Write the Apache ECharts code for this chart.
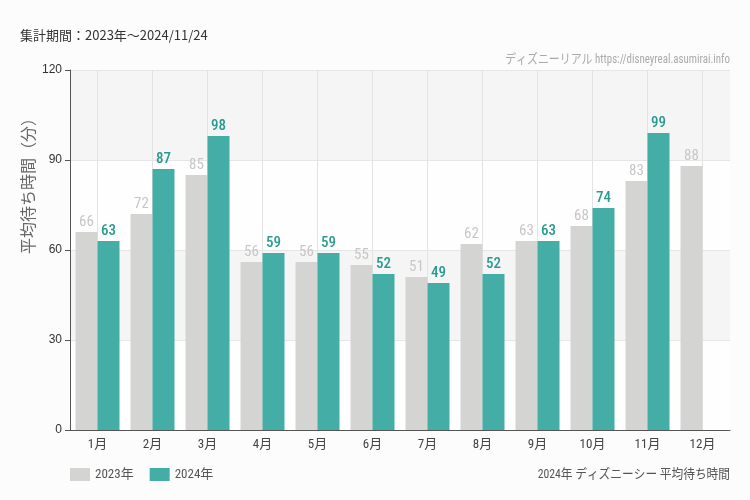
<!DOCTYPE html>
<html><head><meta charset="utf-8">
<script src="https://cdn.jsdelivr.net/npm/echarts@6/dist/echarts.min.js"></script>
<style>html,body{margin:0;padding:0;background:#fbfcfb}#c{width:750px;height:500px}</style>
</head><body><div id="c"></div>
<script>
const categories = ['1月','2月','3月','4月','5月','6月','7月','8月','9月','10月','11月','12月'];
const values2023 = [66,72,85,56,56,55,51,62,63,68,83,88];
const values2024 = [63,87,98,59,59,52,49,52,63,74,99,null];
const yTicks = [0,30,60,90,120];
const seriesNames = ['2023年','2024年'];

const narrow = '"Liberation Sans Narrow","Roboto Condensed","Noto Sans CJK JP",sans-serif';
const cjk = '"Noto Sans CJK JP",sans-serif';
const chart = echarts.init(document.getElementById('c'));
chart.setOption({
  backgroundColor:'#fbfcfb',
  animation:false,
  title:[
    {text:'集計期間：2023年～2024/11/24',left:20,top:29,padding:0,textStyle:{fontSize:13,fontWeight:'normal',color:'#333',fontFamily:cjk}}
  ],
  graphic:[
    {type:'text',x:730,y:60,scaleX:0.84,style:{text:'ディズニーリアル https://disneyreal.asumirai.info',align:'right',verticalAlign:'middle',font:'13px '+narrow,fill:'#aaa'}},
    {type:'text',x:730,y:475,scaleX:0.9,style:{text:'2024年 ディズニーシー 平均待ち時間',align:'right',verticalAlign:'middle',font:'13px '+narrow,fill:'#555'}},
    {type:'text',x:28,y:182,rotation:Math.PI/2,style:{text:'平均待ち時間（分）',align:'center',verticalAlign:'middle',font:'16px '+cjk,fill:'#666'}}
  ],
  legend:{left:70,top:468,padding:0,itemWidth:20,itemHeight:13,itemGap:16,icon:'rect',data:seriesNames,
    textStyle:{color:'#555',fontSize:13,fontFamily:narrow}},
  grid:{left:70,right:20,top:70,bottom:70},
  xAxis:{type:'category',data:categories,
    axisLine:{lineStyle:{color:'#555'}},
    axisTick:{alignWithLabel:true,length:5,lineStyle:{color:'#555'}},
    axisLabel:{color:'#444',fontSize:13,fontFamily:narrow,margin:8},
    splitLine:{show:true,alignWithLabel:true,lineStyle:{color:'#e3e3e3'}}},
  yAxis:{type:'value',min:0,max:120,interval:30,
    axisLine:{show:true,lineStyle:{color:'#555'}},
    axisTick:{show:true,length:5,lineStyle:{color:'#555'}},
    axisLabel:{color:'#333',fontSize:12,margin:8,
      formatter:v=>yTicks.includes(v)?String(v):''},
    splitLine:{lineStyle:{color:'#e6e6e6'}},
    splitArea:{show:true,areaStyle:{color:['#fefefe','#f4f5f4']}}},
  series:[
    {name:seriesNames[0],type:'bar',data:values2023,barGap:'0%',barCategoryGap:'20%',
      itemStyle:{color:'#d4d5d3'},
      label:{show:true,position:'top',distance:2,color:'#c6c7c6',fontSize:15,fontFamily:narrow}},
    {name:seriesNames[1],type:'bar',data:values2024,
      itemStyle:{color:'#44ada5'},
      label:{show:true,position:'top',distance:2,color:'#2a9a8f',fontSize:15,fontWeight:500,fontFamily:narrow}}
  ]
});
</script></body></html>
